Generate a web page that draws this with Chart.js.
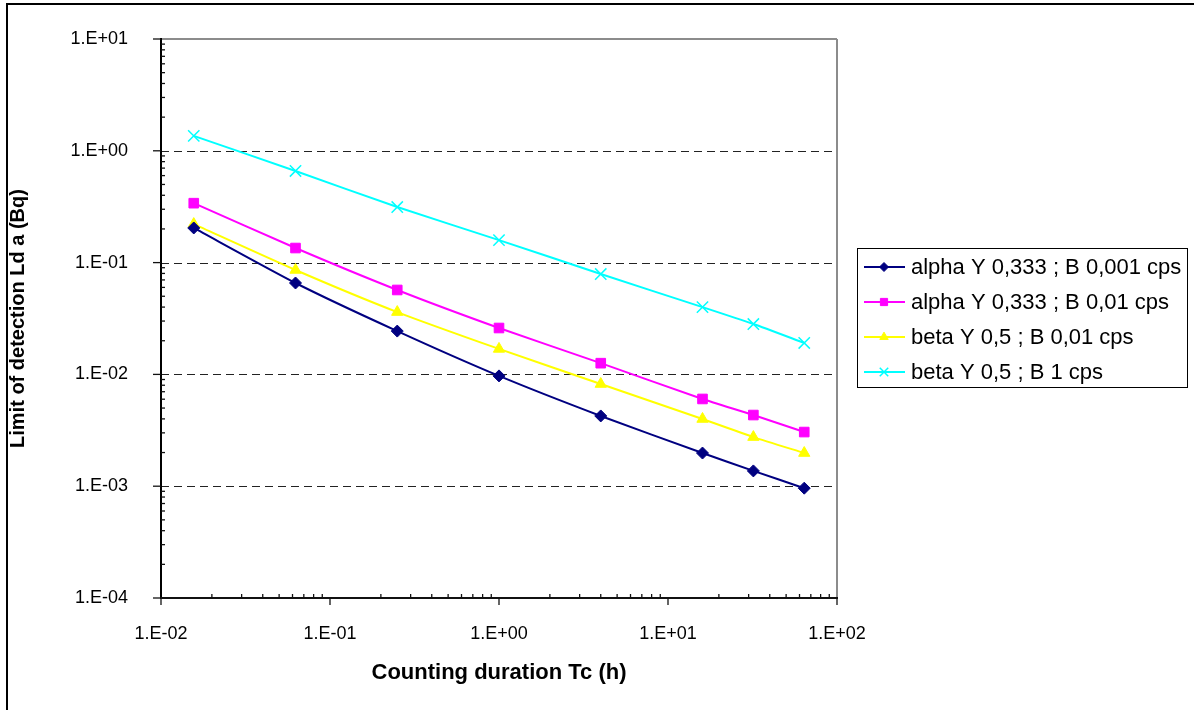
<!DOCTYPE html>
<html><head><meta charset="utf-8">
<script src="https://cdn.jsdelivr.net/npm/chart.js@4.4.1/dist/chart.umd.min.js"></script>
<style>
html,body{margin:0;padding:0;background:#fff;}
#wrap{position:relative;width:1194px;height:710px;overflow:hidden;}
#frame{position:absolute;left:6px;top:3px;width:1300px;height:800px;border-left:2px solid #000;border-top:2px solid #000;pointer-events:none;}
canvas{position:absolute;left:0;top:0;}
</style></head><body>
<div id="wrap"><canvas id="c" width="1194" height="710"></canvas><div id="frame"></div></div>
<script>
// Counting durations (h)
const durations = [1/64, 1/16, 1/4, 1, 4, 16, 32, 64];
// Limit of detection (Bq)
const alphaB0001 = [0.204, 0.0657, 0.0244, 0.0097, 0.00425, 0.00198, 0.00137, 0.00096];
const alphaB001  = [0.34, 0.135, 0.0569, 0.026, 0.0126, 0.00603, 0.00433, 0.00305];
const betaB001   = [0.221, 0.0859, 0.0361, 0.0169, 0.0082, 0.00399, 0.00275, 0.00198];
const betaB1     = [1.36, 0.66, 0.314, 0.159, 0.079, 0.040, 0.0282, 0.0191];
const seriesNames = ['alpha Y 0,333 ; B 0,001 cps','alpha Y 0,333 ; B 0,01 cps','beta Y 0,5 ; B 0,01 cps','beta Y 0,5 ; B 1 cps'];
const xTickValues = [1e-2, 1e-1, 1e0, 1e1, 1e2];
const yTickValues = [1e-4, 1e-3, 1e-2, 1e-1, 1e0, 1e1];
const xTitle = 'Counting duration Tc (h)';
const yTitle = 'Limit of detection Ld a (Bq)';

const FONT = "'Liberation Sans', Arial, sans-serif";
const fmt = v => { const e = Math.round(Math.log10(v)); return '1.E' + (e < 0 ? '-' : '+') + String(Math.abs(e)).padStart(2, '0'); };
const pts = arr => arr.map((v, i) => ({x: durations[i], y: v}));

const styles = [
  {color:'#000080', pointStyle:'rectRot', radius:6},
  {color:'#FF00FF', pointStyle:'rect', radius:6.8},
  {color:'#FFFF00', pointStyle:'triangle', radius:6.5},
  {color:'#00FFFF', pointStyle:'crossRot', radius:8}
];
const values = [alphaB0001, alphaB001, betaB001, betaB1];

const datasets = values.map((arr, i) => ({
  label: seriesNames[i],
  data: pts(arr),
  borderColor: styles[i].color,
  backgroundColor: styles[i].color,
  borderWidth: 2,
  tension: 0.2,
  pointStyle: styles[i].pointStyle,
  pointRadius: styles[i].radius,
  pointBackgroundColor: styles[i].color,
  pointBorderColor: styles[i].color,
  pointBorderWidth: styles[i].pointStyle === 'crossRot' ? 1.5 : 1
}));

function line(ctx, x1, y1, x2, y2){ ctx.beginPath(); ctx.moveTo(x1, y1); ctx.lineTo(x2, y2); ctx.stroke(); }

const axesPlugin = {
  id: 'excelAxes',
  beforeDatasetsDraw(chart){
    const {ctx, chartArea: a, scales: {x, y}} = chart;
    ctx.save();
    ctx.strokeStyle = '#222'; ctx.lineWidth = 1; ctx.setLineDash([8, 5]);
    yTickValues.slice(1, -1).forEach(v => { const py = Math.round(y.getPixelForValue(v)) + 0.5; line(ctx, a.left, py, a.right, py); });
    ctx.setLineDash([]);
    ctx.strokeStyle = '#8c8c8c'; ctx.lineWidth = 2;
    line(ctx, a.left, a.top, a.right, a.top);
    line(ctx, a.right, a.top, a.right, a.bottom);
    ctx.restore();
  },
  afterDatasetsDraw(chart){
    const {ctx, chartArea: a, scales: {x, y}} = chart;
    ctx.save();
    ctx.strokeStyle = '#000'; ctx.lineWidth = 2;
    line(ctx, a.left, a.top - 1, a.left, a.bottom + 1);
    ctx.strokeStyle = '#111';
    line(ctx, a.left, a.bottom, a.right + 1, a.bottom);
    ctx.lineWidth = 1.3;
    for (let e = -4; e <= 1; e++) {
      const py = y.getPixelForValue(Math.pow(10, e));
      line(ctx, a.left - 8, py, a.left, py);
      if (e < 1) for (let k = 2; k <= 9; k++) {
        const pm = y.getPixelForValue(k * Math.pow(10, e));
        line(ctx, a.left, pm, a.left + 4, pm);
      }
    }
    for (let e = -2; e <= 2; e++) {
      const px = x.getPixelForValue(Math.pow(10, e));
      line(ctx, px, a.bottom, px, a.bottom + 7);
      if (e < 2) for (let k = 2; k <= 9; k++) {
        const pm = x.getPixelForValue(k * Math.pow(10, e));
        line(ctx, pm, a.bottom - 4, pm, a.bottom);
      }
    }
    ctx.restore();
  },
  afterDraw(chart){
    const ctx = chart.ctx;
    ctx.save();
    ctx.strokeStyle = '#000'; ctx.lineWidth = 1;
    ctx.strokeRect(857.5, 248.5, 330, 139);
    chart.data.datasets.forEach((ds, i) => {
      const cy = 267 + 35 * i;
      ctx.strokeStyle = ds.borderColor; ctx.lineWidth = 2;
      line(ctx, 864, cy, 905, cy);
      ctx.fillStyle = ds.pointBackgroundColor; ctx.strokeStyle = ds.pointBorderColor;
      ctx.lineWidth = ds.pointBorderWidth;
      Chart.helpers.drawPoint(ctx, {pointStyle: ds.pointStyle, radius: ds.pointRadius * 0.75, rotation: 0, borderWidth: ds.pointBorderWidth}, 884, cy);
      ctx.fillStyle = '#000'; ctx.font = '22px ' + FONT; ctx.textBaseline = 'middle'; ctx.textAlign = 'left';
      ctx.fillText(ds.label, 911, cy + 1);
    });
    ctx.restore();
  }
};

new Chart(document.getElementById('c'), {
  type: 'line',
  data: {datasets},
  plugins: [axesPlugin],
  options: {
    responsive: false, animation: false,
    layout: {padding: {left: 0, right: 357, top: 39, bottom: 0}},
    plugins: {legend: {display: false}, tooltip: {enabled: false}},
    scales: {
      x: {
        type: 'logarithmic', min: 0.01, max: 100, position: 'bottom',
        afterBuildTicks: s => { s.ticks = xTickValues.map(v => ({value: v})); },
        afterFit: s => { s.height = 112; s.paddingLeft = 0; s.paddingRight = 0; },
        grid: {display: false, drawTicks: false}, border: {display: false},
        ticks: {autoSkip: false, maxRotation: 0, padding: 25, color: '#000', font: {family: FONT, size: 18}, callback: v => fmt(v)},
        title: {display: true, text: xTitle, color: '#000', font: {family: FONT, size: 22, weight: 'bold'}, padding: {top: 0, bottom: 24}}
      },
      y: {
        type: 'logarithmic', min: 1e-4, max: 10, position: 'left',
        afterBuildTicks: s => { s.ticks = yTickValues.map(v => ({value: v})); },
        afterFit: s => { s.width = 161; s.paddingTop = 0; s.paddingBottom = 0; },
        grid: {display: false, drawTicks: false}, border: {display: false},
        ticks: {autoSkip: false, padding: 33, color: '#000', font: {family: FONT, size: 18}, callback: v => fmt(v)},
        title: {display: true, text: yTitle, color: '#000', font: {family: FONT, size: 20, weight: 'bold'}, padding: {top: 6, bottom: 0}}
      }
    }
  }
});
</script>
</body></html>
